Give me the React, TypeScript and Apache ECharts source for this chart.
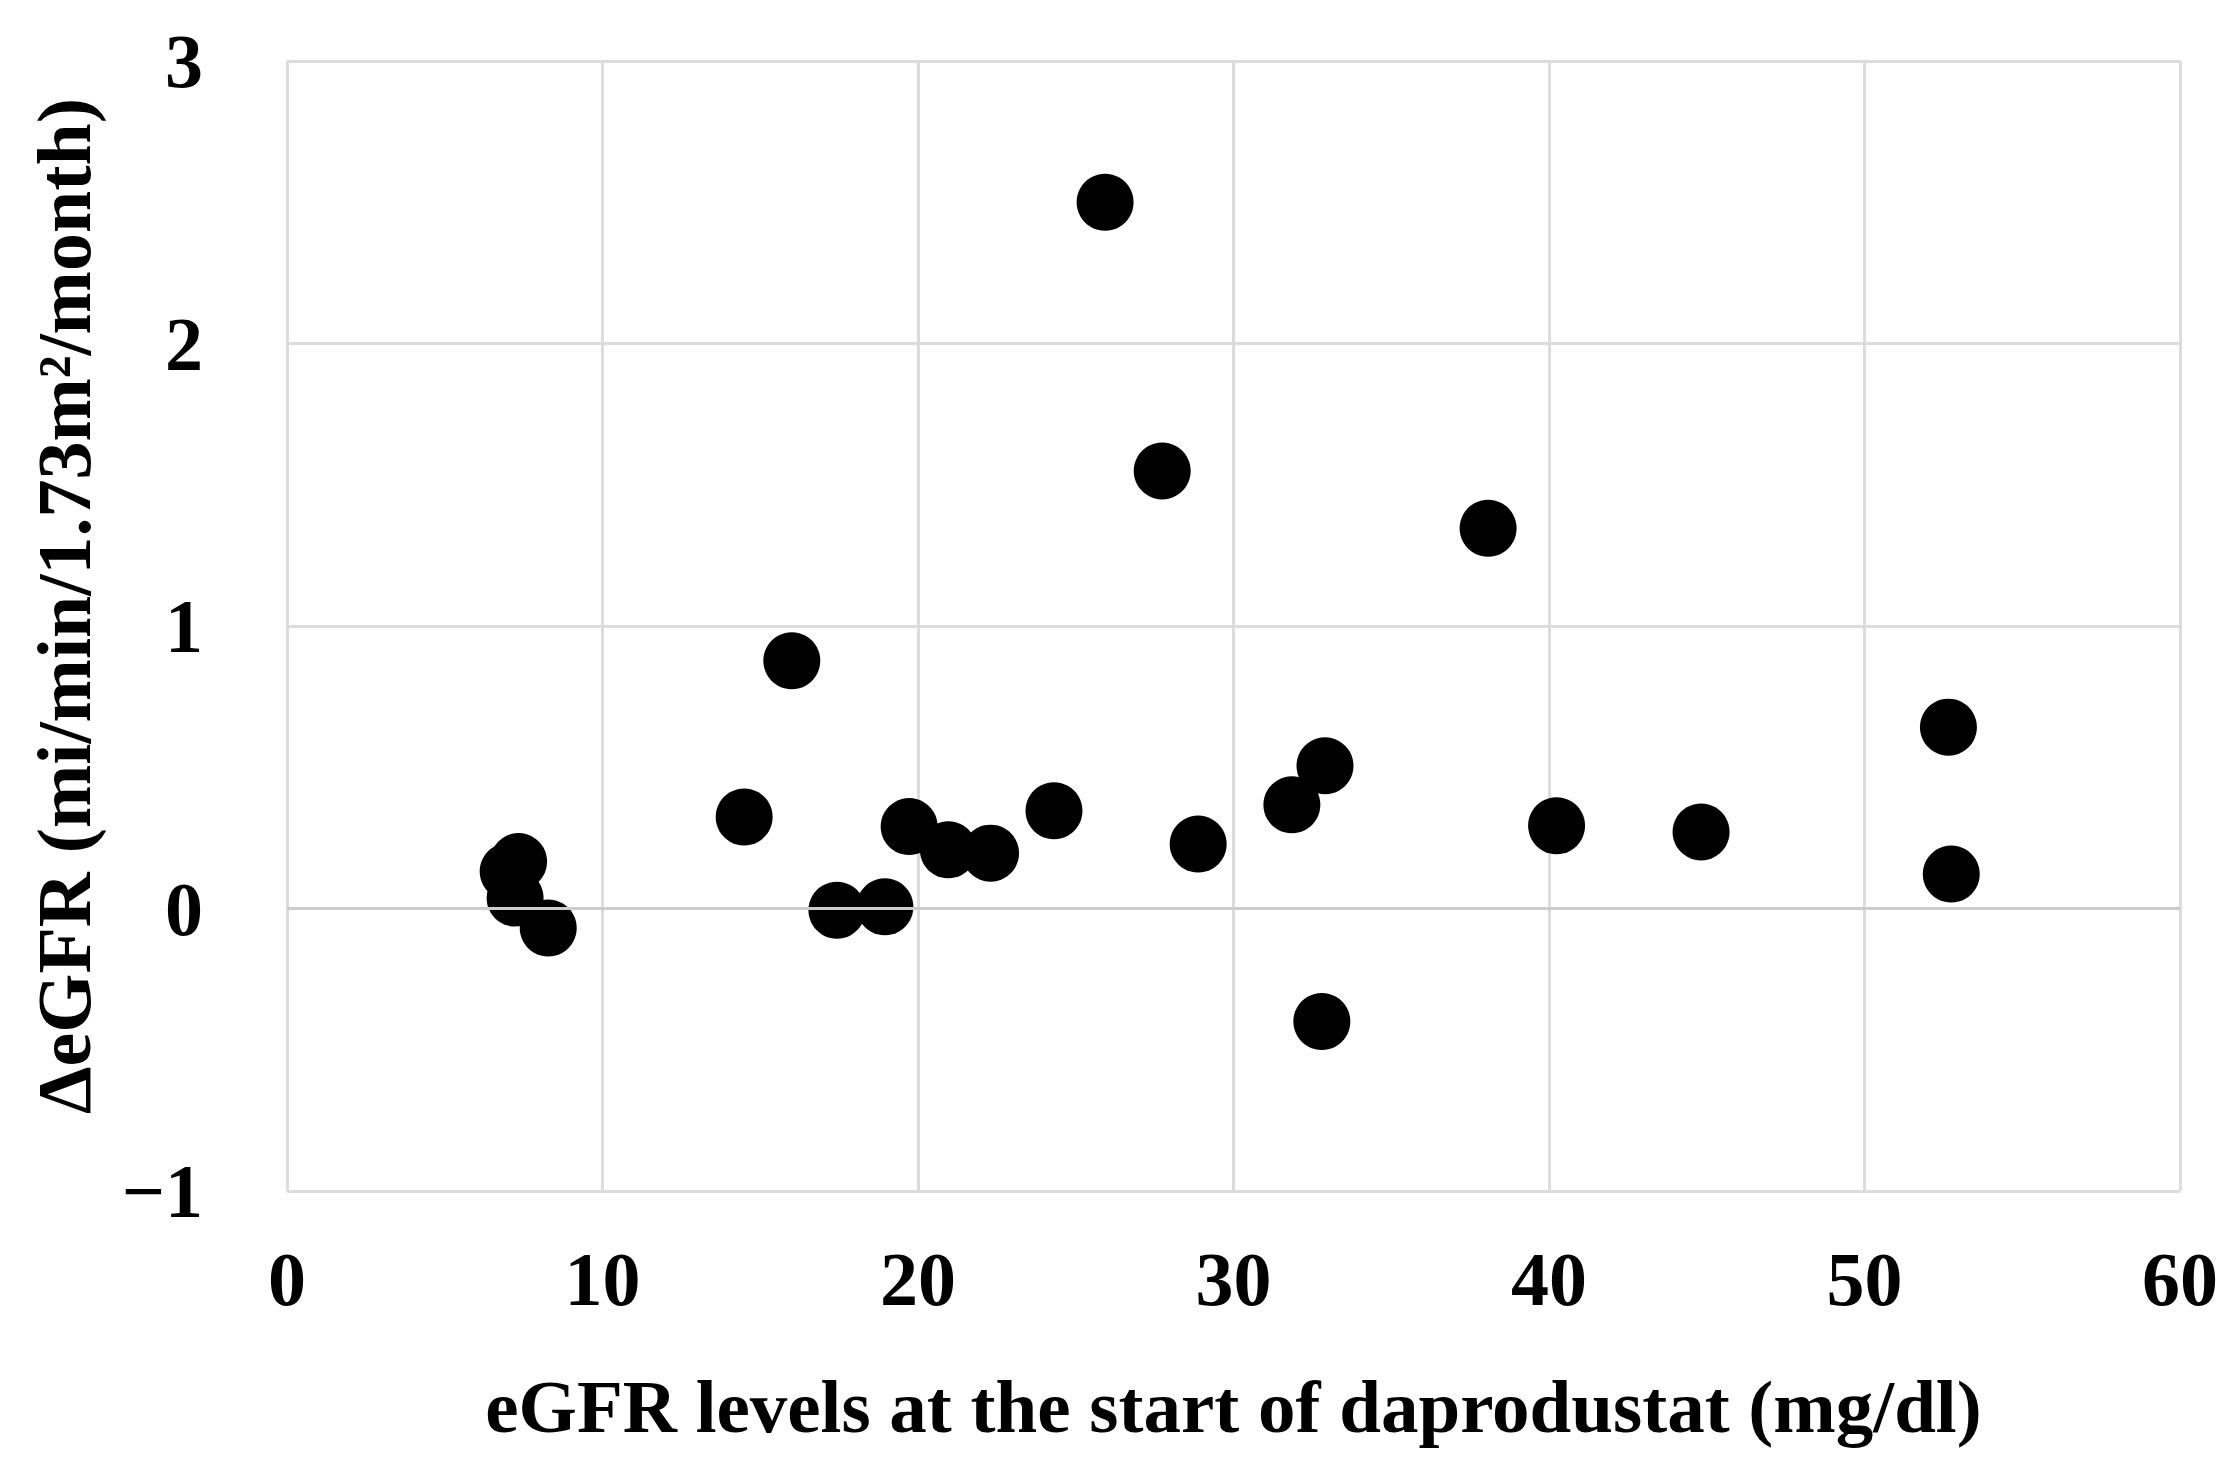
import React, { useEffect, useRef } from "react";
import * as echarts from "echarts";

const xTitle = "eGFR levels at the start of daprodustat (mg/dl)";
const yTitle = "ΔeGFR (mi/min/1.73m²/month)";

const egfrStart = [
  25.93, 27.74, 38.07, 16.0, 52.66, 32.9, 31.85, 14.49, 24.31, 19.72, 20.96, 22.3,
  28.88, 40.24, 44.82, 52.75, 17.43, 18.95, 32.8, 7.34, 7.01, 7.23, 8.28,
];
const deltaEgfr = [
  2.5, 1.549, 1.346, 0.877, 0.642, 0.505, 0.367, 0.324, 0.346, 0.29, 0.208, 0.196,
  0.228, 0.293, 0.271, 0.122, -0.006, 0.006, -0.4, 0.166, 0.131, 0.037, -0.069,
];

const xMin = 0;
const xMax = 60;
const xStep = 10;
const yMin = -1;
const yMax = 3;
const yStep = 1;

const FONT = "'Liberation Serif', 'Times New Roman', serif";

export default function App() {
  const ref = useRef<HTMLDivElement>(null);
  useEffect(() => {
    document.body.style.margin = "0";
    if (!ref.current) return;
    const chart = echarts.init(ref.current, undefined, { renderer: "svg" });
    const points = egfrStart.map((x, i) => [x, deltaEgfr[i]]);
    const gridColor = "#dcdcdc";
    chart.setOption({
      animation: false,
      backgroundColor: "#ffffff",
      grid: { left: 287, right: 46, top: 61, bottom: 282 },
      xAxis: {
        type: "value",
        min: xMin,
        max: xMax,
        interval: xStep,
        name: xTitle,
        nameLocation: "middle",
        nameGap: 178,
        nameTextStyle: { fontFamily: FONT, fontWeight: "bold", fontSize: 75, color: "#000" },
        axisLine: { show: false },
        axisTick: { show: false },
        axisLabel: { margin: 50, fontFamily: FONT, fontWeight: "bold", fontSize: 76, color: "#000" },
        splitLine: { show: true, lineStyle: { color: gridColor, width: 3 } },
      },
      yAxis: {
        type: "value",
        min: yMin,
        max: yMax,
        interval: yStep,
        name: yTitle,
        nameLocation: "middle",
        nameGap: 185,
        nameRotate: 90,
        nameTextStyle: {
          fontFamily: FONT,
          fontWeight: "bold",
          fontSize: 76,
          color: "#000",
          padding: [0, 0, 0, 40],
        },
        axisLine: { show: false },
        axisTick: { show: false },
        axisLabel: {
          margin: 84,
          fontFamily: FONT,
          fontWeight: "bold",
          fontSize: 76,
          color: "#000",
          padding: [0, 0, 12, 0],
          formatter: (v: number) => String(v).replace("-", "\u2212"),
        },
        splitLine: { show: true, lineStyle: { color: gridColor, width: 3 } },
      },
      series: [
        {
          type: "scatter",
          data: points,
          symbol: "circle",
          symbolSize: 57,
          itemStyle: { color: "#000000", opacity: 1 },
          markLine: {
            silent: true,
            symbol: "none",
            label: { show: false },
            lineStyle: { color: "#cccccc", width: 3, type: "solid" },
            data: [{ yAxis: 0 }],
          },
        },
      ],
    });
    return () => chart.dispose();
  }, []);
  return <div ref={ref} style={{ width: 2226, height: 1473 }} />;
}
